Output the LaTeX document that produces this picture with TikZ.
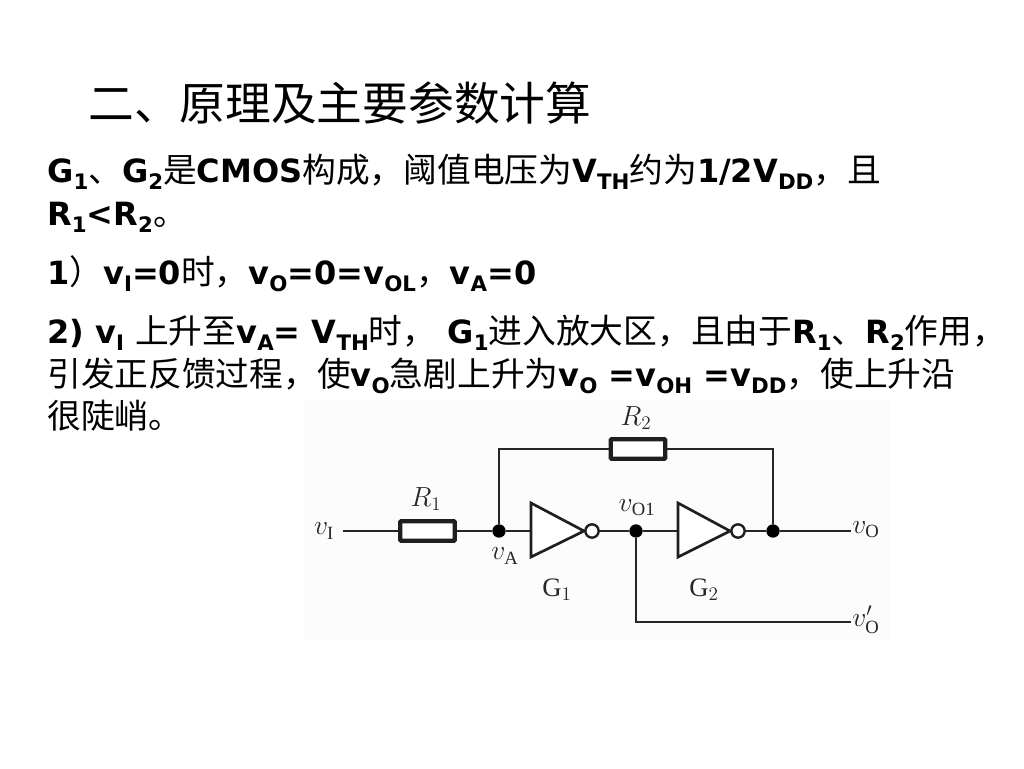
\documentclass[tikz,border=0pt]{standalone}
\usepackage{fontspec}
\setmainfont{DejaVu Sans}[BoldFont={DejaVu Sans Bold}]
\setmathrm{Liberation Serif}
\newfontfamily\cjk{Noto Sans CJK SC}
\newcommand{\zh}[1]{{\cjk\mdseries\fontsize{25.3}{25.3}\selectfont #1}}
\newcommand{\sbb}[1]{\raisebox{-0.22em}{\fontsize{16}{16}\selectfont\bfseries #1}}
\tikzset{
  x=0.75pt,y=-0.75pt,
  wire/.style={draw=black!85,line width=1.8pt},
  resbox/.style={draw=black!88,line width=3.2pt,fill=white,minimum width=41pt,minimum height=14.5pt,inner sep=0pt,rounded corners=0.6pt},
  gate/.style={draw=black!88,line width=2pt,line join=miter,fill=white},
  bubble/.style={circle,draw=black!88,line width=1.8pt,fill=white,minimum size=10pt,inner sep=0pt},
  junction/.style={circle,fill=black,minimum size=10pt,inner sep=0pt},
  titletext/.style={anchor=base west,inner sep=0pt,font=\fontsize{34.3}{34.3}\selectfont\cjk},
  bodytext/.style={anchor=base west,inner sep=0pt,font=\fontsize{24}{24}\selectfont\bfseries},
  lab/.style={inner sep=0pt,text=black!85,font=\fontsize{20}{20}\selectfont}
}
\begin{document}
\begin{tikzpicture}
\useasboundingbox (0,0) rectangle (1024,768);
\fill[white] (0,0) rectangle (1024,768);
\fill[black!1] (305,400) rectangle (890,640);

\node[titletext] (title) at (88,120) {二、原理及主要参数计算};
\node[bodytext] (l1) at (47,182) {G\sbb{1}\zh{、}G\sbb{2}\zh{是}CMOS\zh{构成，阈值电压为}V\sbb{TH}\zh{约为}1/2V\sbb{DD}\zh{，且}};
\node[bodytext] (l2) at (47,225) {R\sbb{1}<R\sbb{2}\zh{。}};
\node[bodytext] (l3) at (47,284) {1\zh{）}v\sbb{I}=0\zh{时，}v\sbb{O}=0=v\sbb{OL}\zh{，}v\sbb{A}=0};
\node[bodytext] (l4) at (47,343) {2) v\sbb{I} \zh{上升至}v\sbb{A}= V\sbb{TH}\zh{时，} G\sbb{1}\zh{进入放大区，且由于}R\sbb{1}\zh{、}R\sbb{2}\zh{作用，}};
\node[bodytext] (l5) at (47,386) {\zh{引发正反馈过程，使}v\sbb{O}\zh{急剧上升为}v\sbb{O} =v\sbb{OH} =v\sbb{DD}\zh{，使上升沿}};
\node[bodytext] (l6) at (47,428) {\zh{很陡峭。}};

% circuit
\coordinate (vin) at (343,531);
\coordinate (vout) at (851,531);
\coordinate (vout2) at (851,622);
\coordinate (tl) at (499,449);
\coordinate (tr) at (773,449);
\coordinate (bl) at (636,622);
\coordinate (g1in) at (531,531);
\coordinate (g1out) at (584,531);
\coordinate (g1a) at (531,503);
\coordinate (g1b) at (531,557);
\coordinate (g2in) at (678,531);
\coordinate (g2out) at (730,531);
\coordinate (g2a) at (678,503);
\coordinate (g2b) at (678,557);
\node[junction] (na) at (499,531) {};
\node[junction] (nb) at (636,531) {};
\node[junction] (nc) at (773,531) {};
\node[resbox] (r1) at (427.5,531) {};
\node[resbox] (r2) at (638,449) {};
\draw[wire] (vin) -- (r1);
\draw[wire] (na) -- (r1);
\draw[wire] (na) -- (tl) -- (r2);
\draw[wire] (r2) -- (tr) -- (nc);
\draw[wire] (na) -- (g1in);
\draw[wire] (g1out) -- (nb);
\draw[wire] (nb) -- (g2in);
\draw[wire] (g2out) -- (nc);
\draw[wire] (nc) -- (vout);
\draw[wire] (nb) -- (bl) -- (vout2);
\draw[gate] (g1a) -- (g1b) -- (g1out) -- cycle;
\draw[gate] (g2a) -- (g2b) -- (g2out) -- cycle;
\node[bubble] (b1) at (592,531) {};
\node[bubble] (b2) at (738,531) {};

\node[lab] (lvi) at (324,531) {$v_{\mathrm I}$};
\node[lab] (lvo) at (866,530) {$v_{\mathrm O}$};
\node[lab] (lvop) at (866,620) {$v'_{\mathrm O}$};
\node[lab] (lva) at (505,556) {$v_{\mathrm A}$};
\node[lab] (lvo1) at (637,508) {$v_{\mathrm{O1}}$};
\node[lab] (lr1) at (426,499) {$R_1$};
\node[lab] (lr2) at (636,418) {$R_2$};
\node[lab] (lg1) at (557,590) {$\mathrm{G}_1$};
\node[lab] (lg2) at (704,590) {$\mathrm{G}_2$};
\end{tikzpicture}
\end{document}
